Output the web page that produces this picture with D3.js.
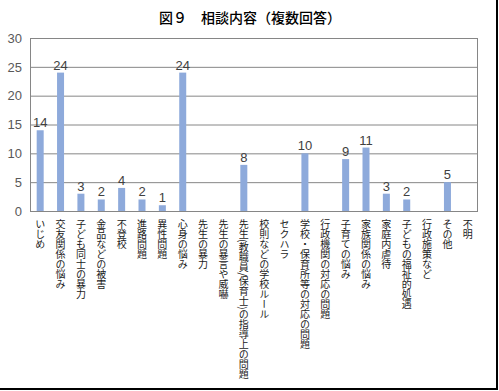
<!DOCTYPE html>
<html lang="ja">
<head>
<meta charset="UTF-8" />
<title>図9 相談内容</title>
<script src="https://d3js.org/d3.v7.min.js"></script>
<style>
  html, body { margin: 0; padding: 0; background: #fff; }
  svg { display: block; }
  .cat { font-family: "Noto Sans CJK JP", sans-serif; font-size: 10px; fill: #1a1a1a; }
  .val { font-family: "Liberation Sans", Arial, sans-serif; font-size: 13px; fill: #404040; }
  .tick text { font-family: "Liberation Sans", Arial, sans-serif; font-size: 13px; fill: #595959; }
</style>
</head>
<body>
<svg id="chart" width="499" height="391"></svg>
<script>
const categories = [
  "いじめ", "交友関係の悩み", "子ども同士の暴力", "金品などの被害", "不登校",
  "進路問題", "異性問題", "心身の悩み", "先生の暴力", "先生の暴言や威嚇",
  "先生(教職員/保育士)の指導上の問題", "校則などの学校ルール", "セクハラ",
  "学校・保育所等の対応の問題", "行政機関の対応の問題", "子育ての悩み",
  "家族関係の悩み", "家庭内虐待", "子どもの福祉的処遇", "行政施策など", "その他", "不明"
];
const counts = [14, 24, 3, 2, 4, 2, 1, 24, 0, 0, 8, 0, 0, 10, 0, 9, 11, 3, 2, 0, 5, 0];
const yTicks = [0, 5, 10, 15, 20, 25, 30];

const svg = d3.select("#chart");
const plotL = 30, plotR = 478, plotT = 38, plotB = 211;

// frame shadow on right and bottom
svg.append("path")
  .attr("d", "M497,0 V389 H0")
  .attr("fill", "none").attr("stroke", "#000").attr("stroke-width", 2);

svg.append("text")
  .attr("x", 250).attr("y", 23)
  .attr("text-anchor", "middle")
  .style("font-family", "'Noto Sans CJK JP', sans-serif")
  .style("font-size", "14px")
  .style("font-weight", "500")
  .style("fill", "#000")
  .text("図９　相談内容（複数回答）");

const x = d3.scaleBand().domain(categories).range([plotL, plotR]);
const y = d3.scaleLinear().domain([0, 30]).range([plotB, plotT]);

// gridlines
svg.append("g").selectAll("line").data(yTicks).join("line")
  .attr("x1", plotL).attr("x2", plotR)
  .attr("y1", d => y(d) + 0.5).attr("y2", d => y(d) + 0.5)
  .attr("stroke", "#868686").attr("stroke-width", 1);

// left & right frame
svg.append("line").attr("x1", plotL + 0.5).attr("x2", plotL + 0.5)
  .attr("y1", plotT).attr("y2", plotB).attr("stroke", "#868686");
svg.append("line").attr("x1", plotR - 0.5).attr("x2", plotR - 0.5)
  .attr("y1", plotT).attr("y2", plotB).attr("stroke", "#868686");

// y axis labels
const yAxis = svg.append("g")
  .attr("transform", `translate(${plotL},0)`)
  .call(d3.axisLeft(y).tickValues(yTicks).tickSize(0).tickPadding(8));
yAxis.select(".domain").remove();

// bars
const bw = 7;
svg.append("g").selectAll("rect").data(categories).join("rect")
  .attr("x", d => x(d) + x.bandwidth() / 2 - bw / 2)
  .attr("y", (d, i) => y(counts[i]))
  .attr("width", bw)
  .attr("height", (d, i) => plotB - y(counts[i]))
  .attr("fill", "#8eaadb");

// value labels
svg.append("g").selectAll("text").data(categories).join("text")
  .attr("class", "val")
  .attr("x", d => x(d) + x.bandwidth() / 2)
  .attr("y", (d, i) => y(counts[i]) - 3)
  .attr("text-anchor", "middle")
  .text((d, i) => counts[i] > 0 ? counts[i] : "");

// category labels, vertical
svg.append("g").selectAll("text").data(categories).join("text")
  .attr("class", "cat")
  .attr("x", d => x(d) + x.bandwidth() / 2)
  .attr("y", 219)
  .style("writing-mode", "vertical-rl")
  .style("text-orientation", "mixed")
  .text(d => d);
</script>
</body>
</html>
